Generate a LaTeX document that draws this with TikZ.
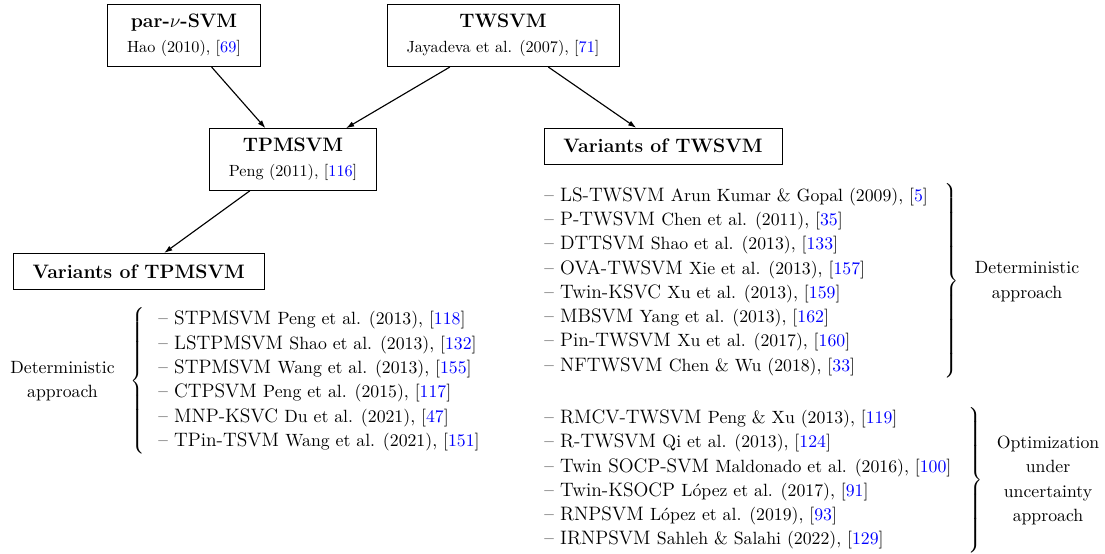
\documentclass[tikz,border=0pt]{standalone}
\usepackage{xcolor}
\usepackage{amsmath,amssymb}
\usepackage{tikz}
\usetikzlibrary{arrows.meta}

\newcommand{\bref}[1]{[\textcolor{blue}{#1}]}
\newcommand{\boxtitle}[1]{{\fontsize{12}{14.5}\selectfont\bfseries #1}}
\newcommand{\svmitem}[3]{-- #1 {\fontsize{10.95}{15}\selectfont #2, \bref{#3}}}
\newcommand{\openbrace}[1]{$\left\{\vcenter{\hbox{\rule{0pt}{#1}}}\right.$}
\newcommand{\closebrace}[1]{$\left.\vcenter{\hbox{\rule{0pt}{#1}}}\right\}$}

\begin{document}
\begin{tikzpicture}[x=0.6173pt,y=-0.6173pt,
  titlebox/.style={draw,align=center,inner xsep=12pt,inner ysep=6pt,font=\fontsize{10}{12}\selectfont},
  varbox/.style={draw,inner xsep=12pt,minimum height=22.5pt,font=\fontsize{12}{14.5}\selectfont\bfseries},
  svmlist/.style={anchor=west,inner sep=0pt,font=\fontsize{12}{15}\selectfont},
  approach/.style={inner sep=0pt,font=\fontsize{10.95}{15}\selectfont},
  link/.style={line width=0.7pt,-{Latex[length=5pt,width=3.4pt]}}]
\useasboundingbox (0,0) rectangle (1105,554);

% models
\node[titlebox] (parnu) at (184,35.7) {\boxtitle{par-$\nu$-SVM}\\[3.4pt]Hao (2010), \bref{69}};
\node[titlebox] (twsvm) at (503,35.7) {\boxtitle{TWSVM}\\[3.4pt]Jayadeva et al. (2007), \bref{71}};
\node[titlebox] (tpmsvm) at (293,159.5) {\boxtitle{TPMSVM}\\[3.4pt]Peng (2011), \bref{116}};
\node[varbox] (twvar) at (663,146.3) {Variants of TWSVM};
\node[varbox] (tpmvar) at (138.7,271.5) {Variants of TPMSVM};

\draw[link] (parnu) -- (tpmsvm);
\draw[link] (twsvm) -- (tpmsvm);
\draw[link] (twsvm) -- (twvar);
\draw[link] (tpmsvm) -- (tpmvar);

% variants of TPMSVM
\node[svmlist] (tpmlist) at (158,380.8) {\begin{tabular}{@{}l@{}}
\svmitem{STPMSVM}{Peng et al. (2013)}{118}\\
\svmitem{LSTPMSVM}{Shao et al. (2013)}{132}\\
\svmitem{STPMSVM}{Wang et al. (2013)}{155}\\
\svmitem{CTPSVM}{Peng et al. (2015)}{117}\\
\svmitem{MNP-KSVC}{Du et al. (2021)}{47}\\
\svmitem{TPin-TSVM}{Wang et al. (2021)}{151}
\end{tabular}};
\node (tpmbrace) at (139,380.8) {\openbrace{92.5pt}};
\node[approach] (tpmdet) at (62.5,380.5) {\begin{tabular}{@{}c@{}}Deterministic\\approach\end{tabular}};

% variants of TWSVM
\node[svmlist] (twdetlist) at (544,281.3) {\begin{tabular}{@{}l@{}}
\svmitem{LS-TWSVM}{Arun Kumar \& Gopal (2009)}{5}\\
\svmitem{P-TWSVM}{Chen et al. (2011)}{35}\\
\svmitem{DTTSVM}{Shao et al. (2013)}{133}\\
\svmitem{OVA-TWSVM}{Xie et al. (2013)}{157}\\
\svmitem{Twin-KSVC}{Xu et al. (2013)}{159}\\
\svmitem{MBSVM}{Yang et al. (2013)}{162}\\
\svmitem{Pin-TWSVM}{Xu et al. (2017)}{160}\\
\svmitem{NFTWSVM}{Chen \& Wu (2018)}{33}
\end{tabular}};
\node (twdetbrace) at (951,281) {\closebrace{121pt}};
\node[approach] (twdet) at (1027,281) {\begin{tabular}{@{}c@{}}Deterministic\\approach\end{tabular}};

\node[svmlist] (twroblist) at (544,479.3) {\begin{tabular}{@{}l@{}}
\svmitem{RMCV-TWSVM}{Peng \& Xu (2013)}{119}\\
\svmitem{R-TWSVM}{Qi et al. (2013)}{124}\\
\svmitem{Twin SOCP-SVM}{Maldonado et al. (2016)}{100}\\
\svmitem{Twin-KSOCP}{L\'opez et al. (2017)}{91}\\
\svmitem{RNPSVM}{L\'opez et al. (2019)}{93}\\
\svmitem{IRNPSVM}{Sahleh \& Salahi (2022)}{129}
\end{tabular}};
\node (twrobbrace) at (975,480) {\closebrace{91.4pt}};
\node[approach] (twrob) at (1048,480) {\begin{tabular}{@{}c@{}}Optimization\\under\\uncertainty\\approach\end{tabular}};
\end{tikzpicture}
\end{document}
